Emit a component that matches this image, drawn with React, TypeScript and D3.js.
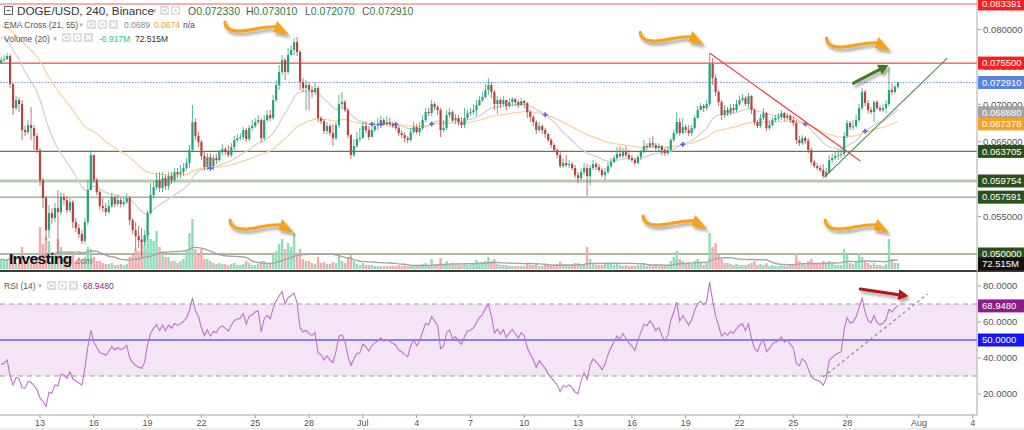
import React from "react";
import * as d3 from "d3";

const FONT = "'Liberation Sans', Arial, Helvetica, sans-serif";
const FIRST_BAR = Date.UTC(2022, 5, 10, 20);
const BAR_MS = 4 * 3600 * 1000;
const PRICE_UNIT = 1e-5; // prices below are in units of 0.00001 USD
const OPEN_FIRST = 7550;

const closeE5 = [
  7590,7604,7644,7270,6949,7056,7003,6655,6628,6722,
  6682,6575,6388,5987,5747,5319,5546,5480,5613,5560,
  5760,5720,5586,5693,5426,5346,5266,5172,5426,5854,
  6321,5987,5827,5640,5613,5560,5640,5760,5667,5720,
  5667,5693,5747,5453,5319,5239,5186,5159,5252,5546,
  5787,5894,5987,5880,6014,5907,6041,5987,6094,6067,
  6094,6148,6214,6388,6762,6575,6495,6308,6161,6294,
  6174,6281,6254,6361,6401,6361,6321,6428,6522,6548,
  6562,6655,6535,6682,6709,6762,6789,6548,6789,6856,
  6816,7056,7256,7430,7590,7430,7657,7724,7831,7697,
  7296,7216,7256,7190,7163,7216,6816,6775,6642,6709,
  6615,6548,6722,7003,7029,6922,6588,6321,6441,6535,
  6548,6709,6655,6562,6655,6709,6735,6789,6735,6762,
  6735,6709,6682,6615,6588,6548,6522,6628,6695,6628,
  6682,6789,6896,6882,7003,6962,6922,6655,6682,6856,
  6896,6789,6816,6762,6722,6816,6882,6896,6922,6989,
  7056,7096,7190,7256,7163,7003,7056,7003,7056,6976,
  7029,7069,7029,6989,7043,7016,6896,6829,6762,6655,
  6709,6655,6602,6522,6455,6388,6321,6174,6214,6188,
  6201,6148,6054,6014,6094,6148,6041,6148,6201,6161,
  6121,6054,6094,6174,6228,6281,6335,6308,6361,6321,
  6281,6254,6214,6294,6361,6441,6428,6481,6455,6415,
  6441,6388,6348,6388,6522,6615,6762,6615,6695,6655,
  6615,6682,6816,6922,6976,6949,7003,7537,7350,7163,
  7029,6856,6922,6882,6949,6922,7003,7056,7083,7003,
  7109,6922,6762,6709,6816,6882,6682,6722,6789,6816,
  6829,6882,6816,6842,6789,6749,6522,6481,6548,6508,
  6388,6228,6174,6148,6121,6041,6094,6254,6281,6308,
  6321,6335,6575,6749,6695,6709,6789,6949,7163,7016,
  6922,6896,7029,6949,6922,6949,7003,7190,7163,7233,
  7291
];

const highE5 = [
  7631,7657,7684,7671,7283,7109,7096,7056,6709,6789,
  6962,6722,6615,6415,6014,5773,5653,5613,5680,5854,
  5827,5814,5773,5747,5720,5480,5399,5319,5480,5987,
  6388,6321,6014,5854,5747,5680,5720,5814,5773,5787,
  5747,5760,5814,5773,5480,5426,5373,5346,5319,5586,
  5947,5960,6081,6094,6094,6054,6094,6094,6148,6148,
  6188,6214,6281,6455,6989,6816,6628,6522,6361,6348,
  6348,6321,6335,6388,6468,6428,6455,6481,6575,6602,
  6615,6695,6682,6722,6789,6816,6856,6816,6856,6922,
  6922,7123,7323,7524,7657,7617,7751,7791,7884,7898,
  7724,7350,7323,7296,7243,7296,7243,6842,6802,6762,
  6735,6735,6762,7123,7163,7056,6949,6602,6535,6628,
  6682,6762,6762,6709,6695,6762,6816,6842,6816,6842,
  6816,6762,6735,6709,6655,6628,6575,6682,6762,6735,
  6762,6856,6949,6949,7056,7029,6989,6949,6789,6922,
  6949,6922,6869,6856,6829,6949,6922,6949,7003,7056,
  7109,7163,7270,7350,7296,7190,7109,7083,7109,7056,
  7083,7096,7083,7056,7083,7056,7029,6922,6856,6789,
  6762,6735,6682,6615,6548,6481,6415,6361,6281,6321,
  6254,6228,6188,6094,6148,6214,6201,6188,6254,6228,
  6201,6148,6148,6228,6281,6321,6428,6441,6415,6441,
  6388,6321,6281,6321,6388,6522,6481,6548,6575,6481,
  6481,6455,6415,6441,6548,6655,6896,6816,6816,6735,
  6722,6722,6856,6976,7016,7003,7056,7684,7617,7403,
  7190,7056,6989,6962,7003,7003,7056,7109,7136,7109,
  7150,7123,6949,6789,6869,6949,6896,6789,6829,6856,
  6882,6922,6896,6882,6869,6829,6789,6575,6588,6575,
  6548,6415,6254,6214,6188,6201,6148,6321,6335,6361,
  6388,6388,6628,6789,6775,6789,6856,7003,7216,7190,
  7056,6962,7056,7056,6989,7003,7056,7497,7270,7260,
  7301
];

const lowE5 = [
  7537,7564,7590,7216,6856,6922,6896,6522,6575,6602,
  6522,6388,6348,5907,5613,5186,5212,5399,5426,5012,
  5520,5653,5546,5560,5346,5293,5212,5132,5146,5386,
  5854,5947,5787,5586,5560,5506,5533,5613,5627,5640,
  5627,5640,5667,5386,5266,5052,5079,4959,5119,5186,
  5520,5747,5854,5827,5827,5854,5854,5934,5960,6014,
  6014,6041,6121,6148,6361,6522,6428,6254,6121,6121,
  6148,6121,6201,6228,6321,6321,6294,6294,6388,6495,
  6522,6522,6495,6508,6655,6682,6735,6495,6522,6762,
  6775,6789,7029,7190,7390,7323,7403,7657,7657,7644,
  7190,7163,6922,6922,7083,7123,6762,6735,6602,6602,
  6575,6441,6522,6682,6949,6896,6548,6268,6294,6415,
  6495,6588,6615,6522,6575,6628,6655,6682,6709,6709,
  6695,6682,6655,6575,6548,6495,6481,6495,6602,6602,
  6575,6655,6762,6842,6842,6922,6856,6562,6628,6655,
  6816,6762,6735,6709,6682,6682,6789,6842,6869,6842,
  6976,7029,7083,7123,7083,6922,6869,6949,6976,6922,
  6949,6976,6976,6949,6976,6949,6816,6762,6709,6602,
  6628,6602,6548,6495,6415,6361,6281,6148,6148,6161,
  6148,6121,6014,5947,5987,6054,5773,5920,6121,6121,
  6094,6027,5987,6067,6148,6214,6254,6281,6281,6294,
  6254,6228,6188,6201,6254,6348,6388,6415,6415,6388,
  6375,6321,6308,6321,6361,6495,6588,6575,6602,6615,
  6575,6575,6655,6816,6922,6896,6922,6976,7256,7109,
  6976,6789,6816,6842,6856,6882,6896,6976,7029,6976,
  6949,6869,6722,6682,6682,6789,6642,6655,6709,6762,
  6775,6789,6775,6789,6749,6709,6468,6441,6455,6468,
  6348,6188,6148,6121,6094,6014,6014,6067,6214,6254,
  6254,6281,6308,6548,6655,6655,6682,6762,6922,6976,
  6882,6869,6762,6922,6896,6896,6882,6976,7123,7140,
  7207
];

// volume per bar, millions
const volumeM = [
  145,116,131,218,203,87,145,319,116,102,
  131,116,174,609,363,464,406,218,203,435,
  319,145,174,145,203,116,174,145,174,319,
  290,174,116,116,87,73,73,87,58,58,
  73,58,73,174,203,290,261,435,363,508,
  435,406,551,319,261,174,174,116,116,87,
  116,145,261,522,725,290,203,290,145,145,
  116,87,73,87,73,73,58,73,87,58,
  58,73,116,87,58,58,73,116,116,87,
  73,203,261,363,435,290,377,319,522,232,
  290,145,116,116,87,73,174,87,102,73,
  73,102,87,203,116,87,174,203,116,73,
  58,87,58,58,58,44,44,44,44,44,
  44,44,44,58,44,58,44,58,58,44,
  58,73,87,58,145,58,73,160,73,116,
  58,87,58,58,58,87,58,58,73,131,
  87,102,116,174,116,145,73,58,58,58,
  44,44,44,44,44,44,73,58,58,87,
  44,44,58,58,58,58,73,102,58,58,
  44,58,87,87,73,58,319,145,73,58,
  58,58,73,73,73,58,87,58,44,58,
  44,44,44,58,58,87,44,58,44,58,
  44,44,58,44,116,174,261,145,116,87,
  102,73,116,145,87,58,87,522,319,377,
  203,145,87,87,73,58,73,58,58,58,
  73,87,116,58,73,58,87,44,58,44,
  44,58,44,44,58,73,232,116,87,58,
  116,145,87,73,73,116,87,116,73,58,
  58,58,290,203,87,73,116,232,174,116,
  87,58,87,58,58,44,73,435,145,87,
  87
];

const xTickDates = [
  "2022-06-13","2022-06-16","2022-06-19","2022-06-22","2022-06-25","2022-06-28",
  "2022-07-01","2022-07-04","2022-07-07","2022-07-10","2022-07-13","2022-07-16",
  "2022-07-19","2022-07-22","2022-07-25","2022-07-28","2022-08-01","2022-08-04"
];
const priceTicks = [0.055, 0.06, 0.065, 0.07, 0.075, 0.08];
const rsiTicks = [20, 40, 60, 80];

const levelLines = [
  { v: 0.083391, color: "#f45b5b", w: 1, dash: "" },
  { v: 0.0755, color: "#f44a4a", w: 1.2, dash: "" },
  { v: 0.07291, color: "#7a95f5", w: 1, dash: "1.5,1.5" },
  { v: 0.063705, color: "#5b7f45", w: 1.2, dash: "" },
  { v: 0.059754, color: "#b7c8ae", w: 3, dash: "" },
  { v: 0.057591, color: "#6f8f5f", w: 1, dash: "" },
  { v: 0.05, color: "#4f7a3b", w: 1.2, dash: "" }
];
const priceTags = [
  { v: 0.083391, fill: "#f51f1f" },
  { v: 0.0755, fill: "#f51f1f" },
  { v: 0.07291, fill: "#5b82e8" },
  { v: 0.06888, fill: "#a3a3a3" },
  { v: 0.067378, fill: "#f7a125" },
  { v: 0.063705, fill: "#2d4f1c" },
  { v: 0.059754, fill: "#2d4f1c" },
  { v: 0.057591, fill: "#2d4f1c" },
  { v: 0.05, fill: "#2d4f1c" }
];
const volumeTag = 72.515;
const rsiTags = [
  { v: 68.948, fill: "#8a1f8a" },
  { v: 50, fill: "#1616f5" }
];

const EMA_PERIODS = [21, 55];
const EMA_SEEDS = [0.0793, 0.0806];
const RSI_PERIOD = 14;
const RSI_SEED_GAIN = 0.0004;
const RSI_SEED_LOSS = 0.00075;
const VOL_MA = 20;

// annotations: candle index (fractional) and value
const redTrend = [[237, 0.07684], [287.4, 0.06241]];
const greenTrend = [[275.4, 0.06027], [316.5, 0.07617]];
const rsiTrend = [[275, 29.4], [309.9, 75.6]];
const greenArrow = [[285.1, 0.07283], [296.8, 0.07524]];
const rsiArrow = [[287.4, 78.3], [303.5, 74.4]];
const squiggles = [[74.9, 0.08098], [213.8, 0.07964], [276.1, 0.07884], [76.6, 0.05453], [214.8, 0.05506], [275.7, 0.05453]];

function Icon({ x, y, kind }: { x: number; y: number; kind: string }) {
  return (
    <g transform={`translate(${x},${y})`}>
      <rect width={9} height={9} rx={1} fill="#dcdcdc" />
      {kind === "x" ? (
        <path d="M2.2,2.2L6.8,6.8M6.8,2.2L2.2,6.8" stroke="#fff" strokeWidth={1.4} />
      ) : kind === "gear" ? (
        <circle cx={4.5} cy={4.5} r={2.4} fill="none" stroke="#fff" strokeWidth={1.6} />
      ) : (
        <ellipse cx={4.5} cy={4.5} rx={3} ry={2} fill="none" stroke="#fff" strokeWidth={1.2} />
      )}
    </g>
  );
}

function Arrow({ x1, y1, x2, y2, color, w }: any) {
  const dx = x2 - x1, dy = y2 - y1;
  const L = Math.hypot(dx, dy);
  const ux = dx / L, uy = dy / L;
  const bx = x2 - ux * 10, by = y2 - uy * 10;
  const px = -uy, py = ux;
  return (
    <g filter="url(#shadow)">
      <line x1={x1} y1={y1} x2={bx + ux * 2} y2={by + uy * 2} stroke={color} strokeWidth={w} strokeLinecap="round" />
      <polygon points={`${x2},${y2} ${bx + px * 5.5},${by + py * 5.5} ${bx - px * 5.5},${by - py * 5.5}`} fill={color} />
    </g>
  );
}

function Squiggle({ x, y }: { x: number; y: number }) {
  return (
    <g transform={`translate(${x},${y})`} filter="url(#shadow)">
      <path d="M0,0 C0,6 5,9 14,9 C28,9 38,3 54,5" fill="none" stroke="#f5a21f" strokeWidth={3.2} strokeLinecap="round" />
      <polygon points="64,13 52,-1 48,10" fill="#f5a21f" />
    </g>
  );
}

export default function App() {
  const n = closeE5.length;
  const close = closeE5.map((v) => v * PRICE_UNIT);
  const open = close.map((c, i) => (i === 0 ? OPEN_FIRST * PRICE_UNIT : close[i - 1]));
  const high = highE5.map((v, i) => Math.max(v * PRICE_UNIT, open[i], close[i]));
  const low = lowE5.map((v, i) => Math.min(v * PRICE_UNIT, open[i], close[i]));
  const barTime = (i: number) => new Date(FIRST_BAR + i * BAR_MS);

  const x = d3.scaleUtc().domain([new Date(Date.UTC(2022, 5, 13)), new Date(Date.UTC(2022, 7, 4))]).range([40, 972.7]);
  const xi = (i: number) => x(barTime(i));
  const y = d3.scaleLinear().domain([0.05, 0.083391]).range([254, 4]);
  const yv = d3.scaleLinear().domain([0, 3900]).range([269, 0]);
  const yr = d3.scaleLinear().domain([20, 80]).range([394, 286]);

  const emas = EMA_PERIODS.map((p, k) => {
    const a = 2 / (p + 1);
    let e = EMA_SEEDS[k];
    return close.map((c) => (e = e + a * (c - e)));
  });
  let ag = RSI_SEED_GAIN, al = RSI_SEED_LOSS;
  const rsi = close.map((c, i) => {
    const ch = c - open[i];
    ag = (ag * (RSI_PERIOD - 1) + Math.max(ch, 0)) / RSI_PERIOD;
    al = (al * (RSI_PERIOD - 1) + Math.max(-ch, 0)) / RSI_PERIOD;
    return 100 - 100 / (1 + ag / al);
  });
  const volMa = volumeM.map((v, i) => d3.mean(volumeM.slice(Math.max(0, i - VOL_MA + 1), i + 1)) as number);
  const crosses: number[] = [];
  for (let i = 1; i < n; i++) {
    const a = emas[0][i - 1] - emas[1][i - 1], b = emas[0][i] - emas[1][i];
    if ((a < 0) !== (b < 0)) crosses.push(i);
  }

  const idx = d3.range(n);
  const line = (vals: number[], ys: (v: number) => number) =>
    d3.line<number>().x((i) => xi(i)).y((i) => ys(vals[i]))(idx) as string;

  const up = "#22a37b", down = "#b8443f";
  const fmtP = d3.format(".6f");
  const fmtR = d3.format(".4f");
  const fmtDay = (d: Date) => (d.getUTCDate() === 1 ? d3.utcFormat("%b")(d) : d3.utcFormat("%-d")(d));
  const AX = 977;

  const tag = (yy: number, text: string, fill: string, key: string) => (
    <g key={key}>
      <rect x={978} y={yy - 6.5} width={46} height={13} fill={fill} />
      <text x={982} y={yy + 3.3} fontSize={9.5} fill="#fff" fontFamily={FONT}>{text}</text>
    </g>
  );

  return (
    <svg width={1024} height={430} style={{ position: "absolute", left: 0, top: 0, background: "#fff" }}>
      <defs>
        <clipPath id="mainClip"><rect x={0} y={0} width={AX} height={270} /></clipPath>
        <clipPath id="rsiClip"><rect x={0} y={273} width={AX} height={142} /></clipPath>
        <filter id="shadow" x="-30%" y="-50%" width="160%" height="220%">
          <feDropShadow dx={2} dy={3} stdDeviation={1.6} floodColor="#000" floodOpacity={0.35} />
        </filter>
      </defs>
      <rect x={0} y={0} width={1024} height={430} fill="#fff" />

      {/* main panel */}
      <g clipPath="url(#mainClip)">
        {levelLines.map((l, k) => (
          <line key={k} x1={0} x2={AX} y1={y(l.v)} y2={y(l.v)} stroke={l.color} strokeWidth={l.w} strokeDasharray={l.dash || undefined} />
        ))}
        {idx.map((i) => (
          <rect key={"v" + i} x={xi(i) - 1.2} width={2.4} y={yv(volumeM[i])} height={269 - yv(volumeM[i])}
            fill={close[i] >= open[i] ? "#8fdcb8" : "#f6a9a9"} />
        ))}
        <path d={line(volMa, yv)} fill="none" stroke="#a5a5a5" strokeWidth={1.4} />
        <path d={line(emas[1], y)} fill="none" stroke="#fbcf98" strokeWidth={1.2} />
        <path d={line(emas[0], y)} fill="none" stroke="#cfcfcf" strokeWidth={1.2} />
        {idx.map((i) => {
          const c = close[i] >= open[i] ? up : down;
          const yo = y(open[i]), yc = y(close[i]);
          return (
            <g key={"c" + i}>
              <line x1={xi(i)} x2={xi(i)} y1={y(high[i])} y2={y(low[i])} stroke={c} strokeWidth={0.9} strokeOpacity={0.85} />
              <rect x={xi(i) - 1.1} width={2.2} y={Math.min(yo, yc)} height={Math.max(1, Math.abs(yo - yc))} fill={c} />
            </g>
          );
        })}
        {crosses.map((i) => {
          const cx = xi(i), cy = y((emas[0][i] + emas[1][i]) / 2);
          return <path key={"x" + i} d={`M${cx - 2.5},${cy}H${cx + 2.5}M${cx},${cy - 2.5}V${cy + 2.5}`} stroke="#6a5fd8" strokeWidth={1.6} />;
        })}
        <line x1={xi(redTrend[0][0])} y1={y(redTrend[0][1])} x2={xi(redTrend[1][0])} y2={y(redTrend[1][1])} stroke="#ec4b4b" strokeWidth={1.3} />
        <line x1={xi(greenTrend[0][0])} y1={y(greenTrend[0][1])} x2={xi(greenTrend[1][0])} y2={y(greenTrend[1][1])} stroke="#5d8a49" strokeWidth={1.2} />
        <Arrow x1={xi(greenArrow[0][0])} y1={y(greenArrow[0][1])} x2={xi(greenArrow[1][0])} y2={y(greenArrow[1][1])} color="#3f7a1f" w={3} />
        {squiggles.map((s, k) => <Squiggle key={k} x={xi(s[0])} y={y(s[1])} />)}
        <text x={9} y={264} fontSize={15.5} fontWeight="bold" fill="#111" fontFamily={FONT} letterSpacing={-0.6}>Investing</text>
        <text x={74} y={264} fontSize={8.5} fill="#777" fontFamily={FONT}>.com</text>
      </g>

      {/* RSI panel */}
      <g clipPath="url(#rsiClip)">
        <rect x={0} y={yr(70)} width={AX} height={yr(30) - yr(70)} fill="#f3e5f3" />
        <line x1={0} x2={AX} y1={yr(70)} y2={yr(70)} stroke="#9a9a9a" strokeDasharray="5,4" />
        <line x1={0} x2={AX} y1={yr(30)} y2={yr(30)} stroke="#9a9a9a" strokeDasharray="5,4" />
        <line x1={0} x2={AX} y1={yr(50)} y2={yr(50)} stroke="#5f5ff5" strokeWidth={1.4} />
        <path d={line(rsi, yr)} fill="none" stroke="#bf72cc" strokeWidth={1.1} />
        <line x1={xi(rsiTrend[0][0])} y1={yr(rsiTrend[0][1])} x2={xi(rsiTrend[1][0])} y2={yr(rsiTrend[1][1])} stroke="#8a8a8a" strokeWidth={1.2} strokeDasharray="3,3" />
        <Arrow x1={xi(rsiArrow[0][0])} y1={yr(rsiArrow[0][1])} x2={xi(rsiArrow[1][0])} y2={yr(rsiArrow[1][1])} color="#b3151b" w={3} />
      </g>

      {/* separators and axes */}
      <line x1={0} x2={1024} y1={271} y2={271} stroke="#3c3c3c" strokeWidth={2} />
      <line x1={AX} x2={AX} y1={0} y2={415} stroke="#a8a8a8" />
      <line x1={0} x2={AX} y1={415} y2={415} stroke="#a8a8a8" />
      <rect x={0} y={428} width={1024} height={2} fill="#ececec" />
      {xTickDates.map((s) => {
        const d = new Date(s + "T00:00:00Z");
        const xx = x(d);
        return (
          <g key={s}>
            <line x1={xx} x2={xx} y1={415} y2={418} stroke="#999" />
            <text x={xx} y={426} fontSize={9} fill="#555" textAnchor="middle" fontFamily={FONT}>{fmtDay(d)}</text>
          </g>
        );
      })}
      {priceTicks.map((v) => (
        <g key={v}>
          <line x1={978} x2={981} y1={y(v)} y2={y(v)} stroke="#999" />
          <text x={983} y={y(v) + 3.3} fontSize={9.5} fill="#555" fontFamily={FONT}>{fmtP(v)}</text>
        </g>
      ))}
      {rsiTicks.map((v) => (
        <g key={v}>
          <line x1={978} x2={981} y1={yr(v)} y2={yr(v)} stroke="#999" />
          <text x={983} y={yr(v) + 3.3} fontSize={9.5} fill="#555" fontFamily={FONT}>{fmtR(v)}</text>
        </g>
      ))}
      {priceTags.map((t) => tag(y(t.v), fmtP(t.v), t.fill, "p" + t.v))}
      {tag(yv(volumeTag), volumeTag + "M", "#111", "vol")}
      {rsiTags.map((t) => tag(yr(t.v), fmtR(t.v), t.fill, "r" + t.v))}

      {/* legends */}
      <g fontFamily={FONT}>
        <rect x={4.5} y={6.5} width={8} height={8} fill="none" stroke="#666" />
        <line x1={6.5} x2={10.5} y1={10.5} y2={10.5} stroke="#666" />
        <text x={17} y={15} fontSize={11.7} fill="#333">DOGE/USD, 240, Binance</text>
        <text x={151.5} y={13} fontSize={6} fill="#aaa">▼</text>
        <Icon x={160} y={6} kind="eye" />
        <Icon x={171} y={6} kind="gear" />
        <text y={15} fontSize={10.5}>
          <tspan x={188} fill="#555">O</tspan><tspan fill="#2e7d46">0.072330</tspan>
          <tspan x={246} fill="#555">H</tspan><tspan fill="#2e7d46">0.073010</tspan>
          <tspan x={305} fill="#555">L</tspan><tspan fill="#2e7d46">0.072070</tspan>
          <tspan x={362} fill="#555">C</tspan><tspan fill="#2e7d46">0.072910</tspan>
        </text>

        <text x={4} y={28} fontSize={8.5} fill="#555">EMA Cross (21, 55)</text>
        <text x={78} y={27} fontSize={6} fill="#aaa">▼</text>
        <Icon x={87} y={20} kind="eye" />
        <Icon x={98} y={20} kind="gear" />
        <Icon x={109} y={20} kind="x" />
        <text x={124} y={28} fontSize={8.5} fill="#888">0.0689</text>
        <text x={154} y={28} fontSize={8.5} fill="#f59e23">0.0674</text>
        <text x={183} y={28} fontSize={8.5} fill="#3a3a9c">n/a</text>

        <text x={4} y={41.5} fontSize={8.5} fill="#555">Volume (20)</text>
        <text x={52} y={40.5} fontSize={6} fill="#aaa">▼</text>
        <Icon x={62} y={33} kind="eye" />
        <Icon x={73} y={33} kind="gear" />
        <Icon x={84} y={33} kind="x" />
        <text x={99} y={41.5} fontSize={8.5} fill="#2cc487">-6.917M</text>
        <text x={135} y={41.5} fontSize={8.5} fill="#333">72.515M</text>

        <text x={4} y={289} fontSize={8.5} fill="#555">RSI (14)</text>
        <text x={37} y={288} fontSize={6} fill="#aaa">▼</text>
        <Icon x={47} y={281} kind="eye" />
        <Icon x={58} y={281} kind="gear" />
        <Icon x={69} y={281} kind="x" />
        <text x={83} y={289} fontSize={8.5} fill="#8a2a8a">68.9480</text>
      </g>
    </svg>
  );
}
